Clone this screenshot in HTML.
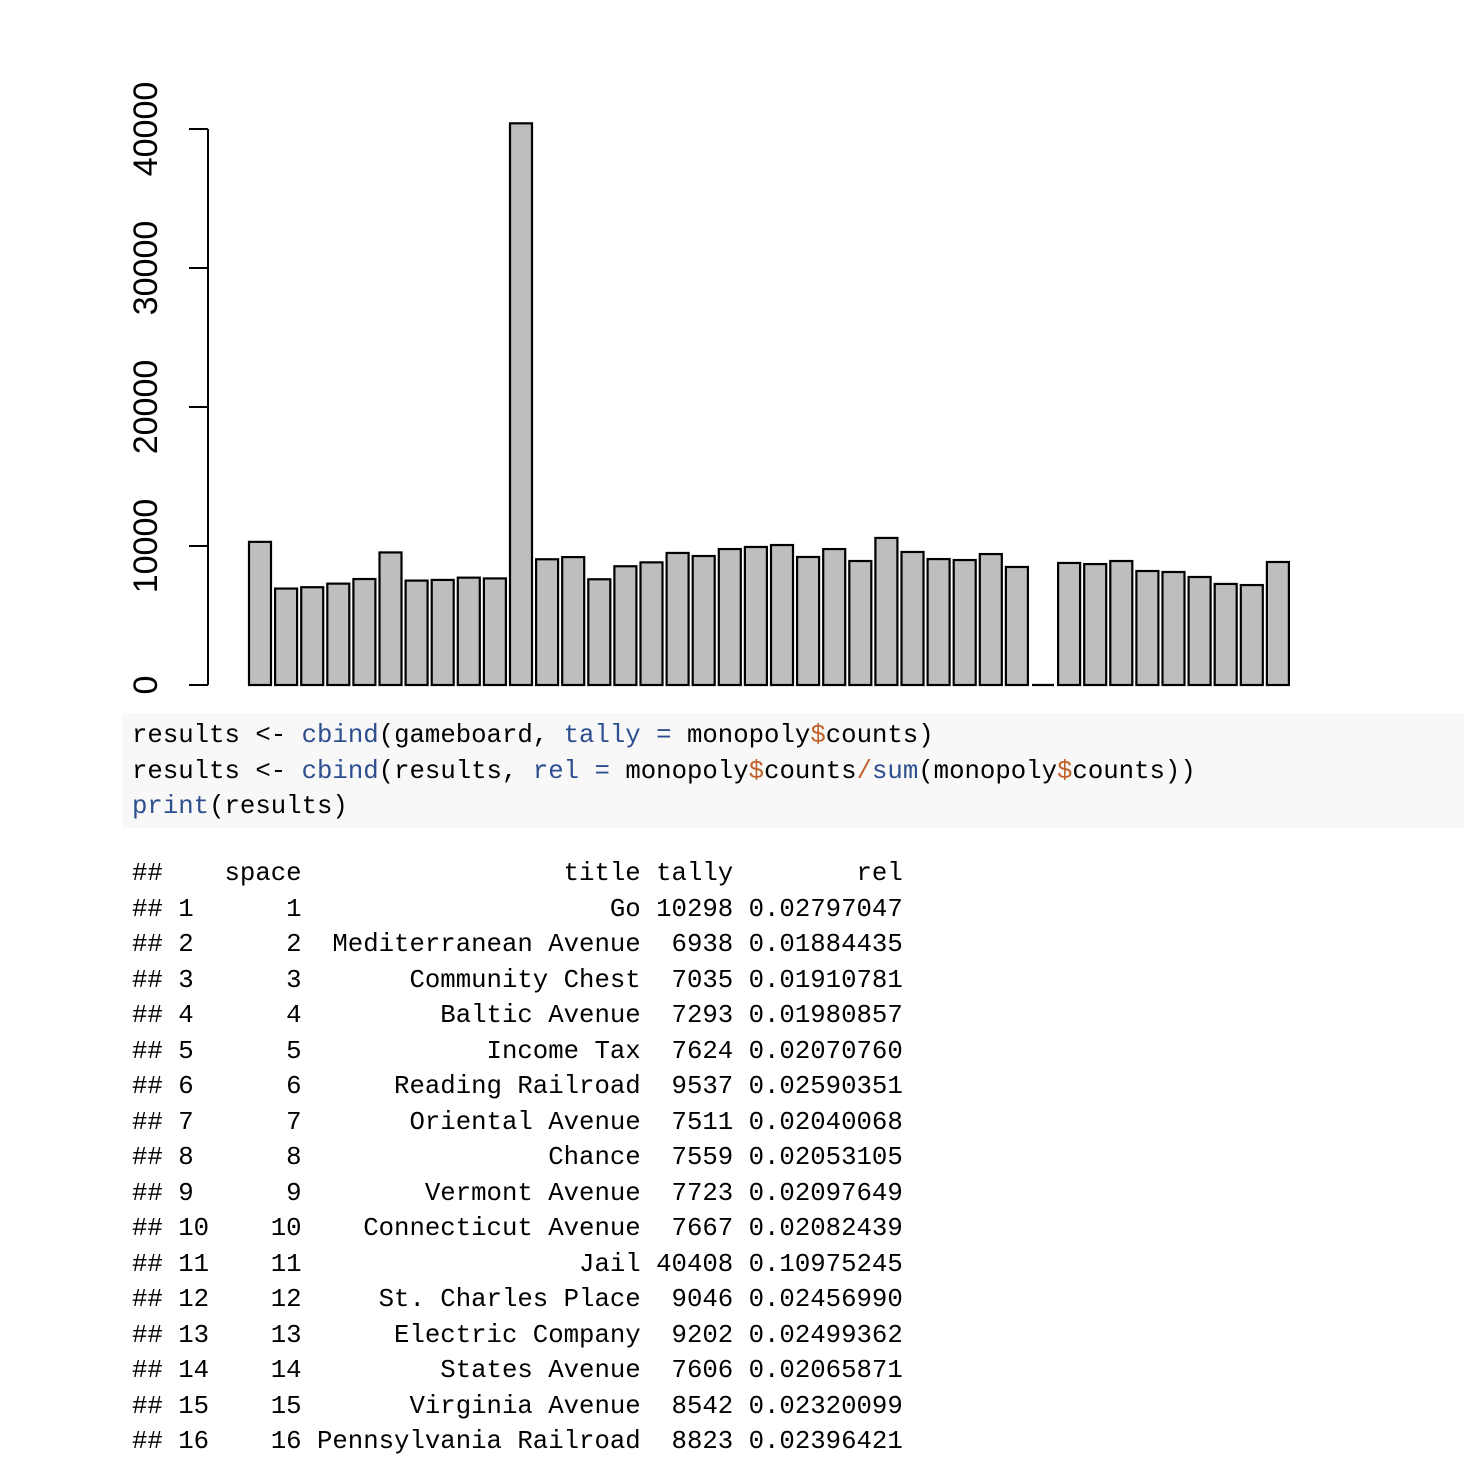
<!DOCTYPE html>
<html><head><meta charset="utf-8"><style>
body{margin:0;background:#fff;width:1464px;height:1452px;overflow:hidden;position:relative;font-family:"Liberation Sans",sans-serif}
.mono{font-family:"Liberation Mono",monospace;font-size:25.7px;white-space:pre;color:#000;position:absolute;left:132px;line-height:35.5px;margin:0}
.kw{color:#2e4f8f}.op{color:#c0622a}
#code{position:absolute;left:122px;top:713px;width:1342px;height:115px;background:#f8f8f8}
</style></head><body>
<svg id="chart" width="1464" height="700" style="position:absolute;left:0;top:0"></svg>
<div id="code"></div>
<pre class="mono" style="top:718px">results &lt;- <span class="kw">cbind</span>(gameboard, <span class="kw">tally</span> <span class="kw">=</span> monopoly<span class="op">$</span>counts)
results &lt;- <span class="kw">cbind</span>(results, <span class="kw">rel</span> <span class="kw">=</span> monopoly<span class="op">$</span>counts<span class="op">/</span><span class="kw">sum</span>(monopoly<span class="op">$</span>counts))
<span class="kw">print</span>(results)</pre>
<pre class="mono" id="out" style="top:856px"></pre>
<script>
const categories=[1,2,3,4,5,6,7,8,9,10,11,12,13,14,15,16,17,18,19,20,21,22,23,24,25,26,27,28,29,30,31,32,33,34,35,36,37,38,39,40];
const tallies=[10298,6938,7035,7293,7624,9537,7511,7559,7723,7667,40408,9046,9202,7606,8542,8823,9500,9280,9780,9930,10070,9210,9780,8920,10580,9570,9060,8990,9420,8490,0,8780,8700,8920,8200,8130,7770,7270,7190,8850];
const yTicks=[0,10000,20000,30000,40000];
const titles=["Go","Mediterranean Avenue","Community Chest","Baltic Avenue","Income Tax","Reading Railroad","Oriental Avenue","Chance","Vermont Avenue","Connecticut Avenue","Jail","St. Charles Place","Electric Company","States Avenue","Virginia Avenue","Pennsylvania Railroad"];
const rels=["0.02797047","0.01884435","0.01910781","0.01980857","0.02070760","0.02590351","0.02040068","0.02053105","0.02097649","0.02082439","0.10975245","0.02456990","0.02499362","0.02065871","0.02320099","0.02396421"];
const NS="http://www.w3.org/2000/svg";
const svg=document.getElementById('chart');
const y=v=>685-v*(556/40000);
const x=i=>249+i*26.1;
function mk(t,a){const e=document.createElementNS(NS,t);for(const k in a)e.setAttribute(k,a[k]);svg.appendChild(e);return e;}
tallies.forEach((v,i)=>{
 let r;
 if(v>0){r=mk('rect',{x:x(i),y:y(v),width:22,height:685-y(v),fill:'#bebebe',stroke:'#000','stroke-width':2.2});}
 else{r=mk('line',{x1:x(i),x2:x(i)+22,y1:685,y2:685,stroke:'#000','stroke-width':2.2});}
 
 
});
const ax=mk('line',{x1:208,x2:208,y1:y(0),y2:y(40000),stroke:'#000','stroke-width':2});


yTicks.forEach(t=>{
 mk('line',{x1:189,x2:208,y1:y(t),y2:y(t),stroke:'#000','stroke-width':2});
 const tx=mk('text',{x:157,y:y(t),'font-size':34,'text-anchor':'middle',transform:`rotate(-90 157 ${y(t)})`,'font-family':'Liberation Sans, sans-serif'});
 tx.textContent=t;
 
 
});
const pad=(s,n)=>String(s).padStart(n);
let lines=["##    space                 title tally        rel"];
titles.forEach((t,i)=>{
 const rn=("## "+(i+1));
 const left=rn+pad(i+1,11-rn.length);
 lines.push(left+pad(t,22)+pad(tallies[i],6)+" "+rels[i]);
});
document.getElementById('out').textContent=lines.join("\n");
</script>
</body></html>
